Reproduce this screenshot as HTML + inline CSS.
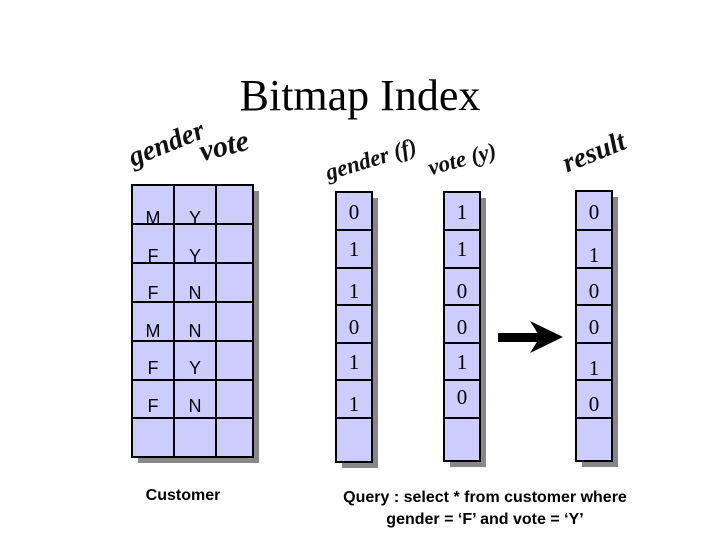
<!DOCTYPE html>
<html><head><meta charset="utf-8"><style>
body{margin:0;width:720px;height:540px;background:#fff;position:relative;overflow:hidden;font-family:"Liberation Sans",sans-serif}
.a{position:absolute}
.wa{position:absolute;font-family:"Liberation Serif",serif;font-style:italic;font-weight:bold;font-size:28px;color:#111;white-space:nowrap}
.t{position:absolute;font-size:18px;text-align:center;width:36px}
.s{font-family:"Liberation Serif",serif;font-size:21px;margin-top:-3px}
</style></head><body>
<div class="a" style="left:0;width:720px;top:70px;text-align:center;font-family:'Liberation Serif',serif;font-size:44px">Bitmap Index</div>
<div class="wa" style="left:136px;top:142px;transform:rotate(-22deg);transform-origin:left bottom">gender</div>
<div class="wa" style="left:204px;top:135px;transform:rotate(-14deg);transform-origin:left bottom;font-size:30px">vote</div>
<div class="wa" style="left:330px;top:160px;transform:rotate(-17deg);transform-origin:left bottom;font-size:23px">gender (f)</div>
<div class="wa" style="left:432px;top:155px;transform:rotate(-15deg);transform-origin:left bottom;font-size:23px">vote (y)</div>
<div class="wa" style="left:570px;top:148px;transform:rotate(-22deg);transform-origin:left bottom;font-size:28px">result</div>
<svg class="a" style="left:0;top:0" width="720" height="540">
<g fill="#888"><rect x="138" y="191" width="121" height="272"/><rect x="342" y="198" width="36" height="270"/><rect x="450" y="198" width="36" height="269"/><rect x="582" y="197" width="36" height="270"/></g>
<g fill="#ccccff" stroke="#000" stroke-width="2">
<rect x="132" y="185" width="121" height="272"/>
<line x1="174" y1="185" x2="174" y2="457"/><line x1="216" y1="185" x2="216" y2="457"/>
<line x1="132" y1="224" x2="253" y2="224"/><line x1="132" y1="263" x2="253" y2="263"/><line x1="132" y1="302" x2="253" y2="302"/><line x1="132" y1="341" x2="253" y2="341"/><line x1="132" y1="380" x2="253" y2="380"/><line x1="132" y1="418" x2="253" y2="418"/>
<rect x="336" y="192" width="36" height="270"/><rect x="444" y="192" width="36" height="269"/><rect x="576" y="191" width="36" height="270"/>
</g>
<g stroke="#000" stroke-width="2">
<path d="M336 230H372M336 268H372M336 305H372M336 343H372M336 380H372M336 418H372"/>
<path d="M444 230H480M444 268H480M444 305H480M444 343H480M444 380H480M444 418H480"/>
<path d="M576 230H612M576 268H612M576 305H612M576 343H612M576 380H612M576 418H612"/>
</g>
<rect x="498" y="333" width="42" height="9" fill="#000"/>
<path d="M530 321L563 337L530 353L540 337Z" fill="#000"/>
</svg>
<div class="t" style="left:135px;top:208px">M</div><div class="t" style="left:177px;top:208px">Y</div>
<div class="t" style="left:135px;top:246px">F</div><div class="t" style="left:177px;top:246px">Y</div>
<div class="t" style="left:135px;top:283px">F</div><div class="t" style="left:177px;top:283px">N</div>
<div class="t" style="left:135px;top:321px">M</div><div class="t" style="left:177px;top:321px">N</div>
<div class="t" style="left:135px;top:358px">F</div><div class="t" style="left:177px;top:358px">Y</div>
<div class="t" style="left:135px;top:396px">F</div><div class="t" style="left:177px;top:396px">N</div>
<div class="t s" style="left:336px;top:203px">0</div><div class="t s" style="left:444px;top:203px">1</div><div class="t s" style="left:576px;top:203px">0</div>
<div class="t s" style="left:336px;top:240px">1</div><div class="t s" style="left:444px;top:240px">1</div><div class="t s" style="left:576px;top:246px">1</div>
<div class="t s" style="left:336px;top:282px">1</div><div class="t s" style="left:444px;top:282px">0</div><div class="t s" style="left:576px;top:282px">0</div>
<div class="t s" style="left:336px;top:318px">0</div><div class="t s" style="left:444px;top:318px">0</div><div class="t s" style="left:576px;top:318px">0</div>
<div class="t s" style="left:336px;top:353px">1</div><div class="t s" style="left:444px;top:353px">1</div><div class="t s" style="left:576px;top:359px">1</div>
<div class="t s" style="left:336px;top:395px">1</div><div class="t s" style="left:444px;top:388px">0</div><div class="t s" style="left:576px;top:395px">0</div>
<div class="a" style="left:103px;width:160px;top:487px;text-align:center;font-weight:bold;font-size:16px">Customer</div>
<div class="a" style="left:295px;width:380px;top:487px;text-align:center;font-weight:bold;font-size:16px;line-height:22px">Query : select * from customer where<br>gender = ‘F’ and vote = ‘Y’</div>
</body></html>
